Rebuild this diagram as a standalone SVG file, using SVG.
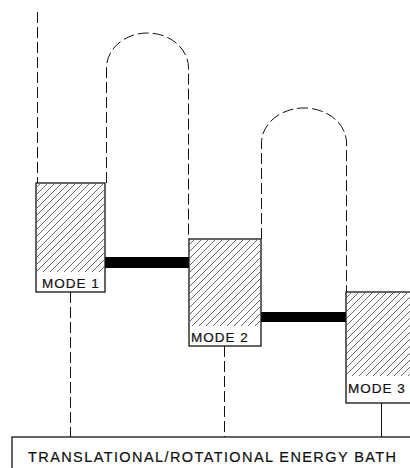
<svg xmlns="http://www.w3.org/2000/svg" width="410" height="468" viewBox="0 0 410 468">
<style>
.box{fill:#fff;stroke:#111;stroke-width:1.3}
.hatch{fill:url(#h)}
.dash{fill:none;stroke:#111;stroke-width:1;stroke-dasharray:11 4}
.solid{fill:none;stroke:#111;stroke-width:1}
.bar{fill:#000}
.lbl{font-family:"Liberation Sans",Arial,sans-serif;font-size:13.5px;letter-spacing:1px;fill:#111;stroke:#111;stroke-width:0.2}
.bath{font-family:"Liberation Sans",Arial,sans-serif;font-size:14.5px;fill:#111;stroke:#111;stroke-width:0.2}
</style>
<defs>
<pattern id="h" patternUnits="userSpaceOnUse" width="7" height="7">
<path d="M-1,1 l2,-2 M0,7 l7,-7 M6,8 l2,-2" stroke="#222" stroke-width="0.7"/>
</pattern>
</defs>
<rect width="410" height="468" fill="#fff"/>
<g id="connectors">
<line class="dash" x1="37.5" y1="12" x2="37.5" y2="183"/>
<path class="dash" d="M106.5,183 V68 A41,35 0 0 1 188.5,68 V239"/>
<path class="dash" d="M261.5,239 V143 A42.5,35 0 0 1 346.5,143 V292"/>
<line class="dash" x1="70.5" y1="292" x2="70.5" y2="437"/>
<line class="dash" x1="224.5" y1="346" x2="224.5" y2="437"/>
<line class="solid" x1="381.5" y1="403" x2="381.5" y2="437"/>
<rect class="bar" x="105" y="257" width="84" height="11"/>
<rect class="bar" x="261" y="312" width="85" height="10"/>
</g>
<g id="mode1">
<rect class="box" x="36" y="183" width="69" height="109"/>
<rect class="hatch" x="37" y="184" width="67" height="88"/>
<text class="lbl" x="42" y="288">MODE 1</text>
</g>
<g id="mode2">
<rect class="box" x="189" y="239" width="72" height="107"/>
<rect class="hatch" x="190" y="240" width="70" height="86"/>
<text class="lbl" x="191" y="342">MODE 2</text>
</g>
<g id="mode3">
<rect class="box" x="346" y="292" width="72" height="111"/>
<rect class="hatch" x="347" y="293" width="70" height="83"/>
<text class="lbl" x="348" y="393">MODE 3</text>
</g>
<g id="bath">
<rect class="box" x="12" y="437" width="410" height="60"/>
<text class="bath" x="28" y="461.5" textLength="368" lengthAdjust="spacing">TRANSLATIONAL/ROTATIONAL ENERGY BATH</text>
</g>
</svg>
